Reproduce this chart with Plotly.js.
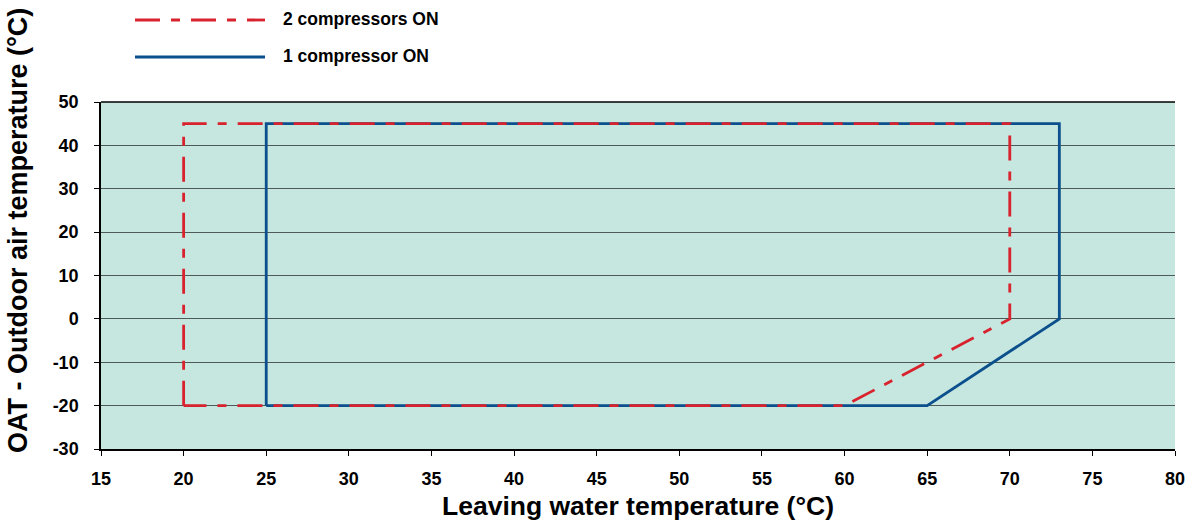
<!DOCTYPE html>
<html><head><meta charset="utf-8">
<script src="https://cdn.plot.ly/plotly-3.0.1.min.js"></script>
<style>body{margin:0;background:#fff}#c{width:1194px;height:521px}</style>
</head><body><div id="c"></div>
<script>
const twoCompX = [20, 20, 70, 70, 60, 20];
const twoCompY = [-20, 45, 45, 0, -20, -20];
const oneCompX = [25, 25, 73, 73, 65, 25];
const oneCompY = [-20, 45, 45, 0, -20, -20];
const seriesNames = ["2 compressors ON", "1 compressor ON"];
const xTicks = [15,20,25,30,35,40,45,50,55,60,65,70,75,80];
const yTicks = [-30,-20,-10,0,10,20,30,40,50];
const xTitle = "Leaving water temperature (°C)";
const yTitle = "OAT - Outdoor air temperature (°C)";

const red = "#d8222d", blue = "#0b4f8c";
const dash = "25px,11px,9px,11px";
const traces = [
  {x: oneCompX, y: oneCompY, mode: "lines", name: seriesNames[1], line: {color: blue, width: 2.8}, showlegend: false},
  {x: twoCompX, y: twoCompY, mode: "lines", name: seriesNames[0], line: {color: red, width: 2.8, dash: dash}, showlegend: false}
];
const font = {family: "Liberation Sans, Arial, sans-serif", color: "#000"};
const layout = {
  width: 1194, height: 521,
  margin: {l: 101, r: 19, t: 102, b: 72},
  paper_bgcolor: "#fff", plot_bgcolor: "#c6e6e0",
  showlegend: false,
  xaxis: {range: [15, 80], tickvals: xTicks, ticktext: xTicks.map(v => "<b>" + v + "</b>"), showgrid: false, zeroline: false,
    showline: true, linecolor: "#000", linewidth: 1.5, ticks: "outside", ticklen: 5, tickcolor: "#000",
    ticklabelstandoff: 8,
    tickfont: {...font, size: 18},
    title: {text: "<b>" + xTitle + "</b>", font: {...font, size: 26.5}, standoff: 8}},
  yaxis: {range: [-30, 50], tickvals: yTicks, ticktext: yTicks.map(v => "<b>" + v + "</b>"), showgrid: true, gridcolor: "#4d5a58", gridwidth: 1.2,
    zeroline: false, showline: true, linecolor: "#000", linewidth: 1.5, ticks: "outside", ticklen: 5, tickcolor: "#000",
    ticklabelstandoff: 12,
    tickfont: {...font, size: 18}},
  shapes: [
    {type: "line", xref: "paper", yref: "paper", x0: 0, x1: 1, y0: 1, y1: 1, line: {color: "#000", width: 1.5}},
    {type: "line", xref: "paper", yref: "paper", x0: 34/1074, x1: 164/1074, y0: 1 + 82/347, y1: 1 + 82/347, line: {color: red, width: 2.8, dash: dash}},
    {type: "line", xref: "paper", yref: "paper", x0: 34/1074, x1: 164/1074, y0: 1 + 45/347, y1: 1 + 45/347, line: {color: blue, width: 2.8}}
  ],
  annotations: [
    {xref: "paper", yref: "paper", x: 180/1074, y: 1 + 83/347, xanchor: "left", yanchor: "middle", showarrow: false, text: "<b>" + seriesNames[0] + "</b>", font: {...font, size: 17.5}},
    {xref: "paper", yref: "paper", x: 180/1074, y: 1 + 46/347, xanchor: "left", yanchor: "middle", showarrow: false, text: "<b>" + seriesNames[1] + "</b>", font: {...font, size: 17.5}},
    {xref: "paper", yref: "paper", x: (18 - 101)/1074, y: (449 - 231)/347, xanchor: "center", yanchor: "middle", textangle: -90, showarrow: false, text: "<b>" + yTitle + "</b>", font: {...font, size: 27}}
  ]
};
Plotly.newPlot("c", traces, layout, {displayModeBar: false});
</script></body></html>
